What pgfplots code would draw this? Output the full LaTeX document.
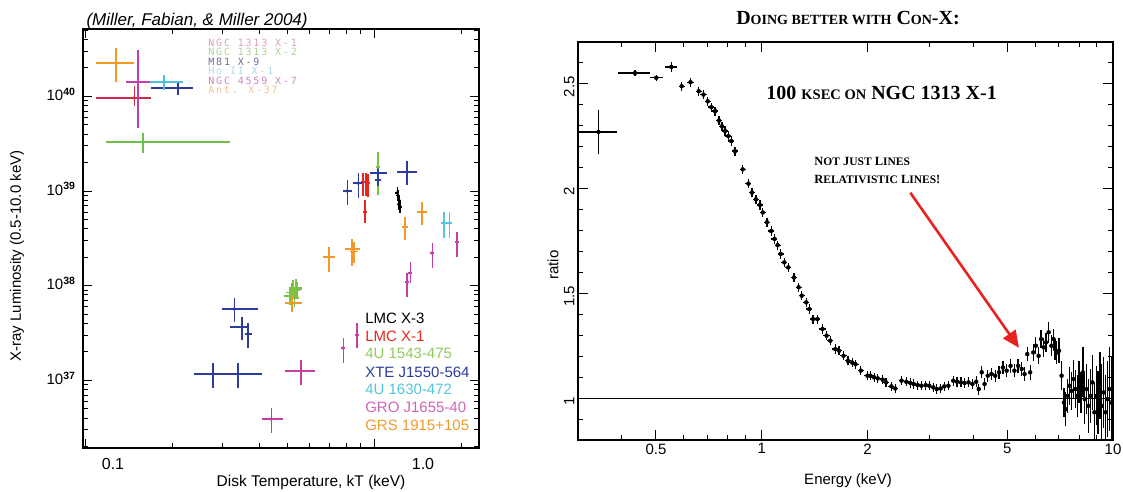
\documentclass[border=0pt]{standalone}
\usepackage{fontspec}
\setmainfont{Liberation Sans}
\newfontfamily\tnr{Liberation Serif}
\newfontfamily\hmono[LetterSpace=18]{DejaVu Sans Mono}
\usepackage{pgfplots}
\pgfplotsset{compat=1.18}
\usetikzlibrary{arrows.meta}

\definecolor{uRed}{HTML}{D02A4A}
\definecolor{uGreen}{HTML}{6CC04A}
\definecolor{uBlue}{HTML}{2E3A9A}
\definecolor{uCyan}{HTML}{4EC3D8}
\definecolor{uMag}{HTML}{C43CB0}
\definecolor{uOrange}{HTML}{F39A1E}
\definecolor{gRed}{HTML}{E8261C}
\definecolor{gGreen}{HTML}{7CC242}
\definecolor{gBlue}{HTML}{2B3C9B}
\definecolor{gCyan}{HTML}{55C6D9}
\definecolor{gMag}{HTML}{C63DA3}
\definecolor{gOrange}{HTML}{F19A2A}
\definecolor{lRed}{HTML}{D9A0B8}
\definecolor{lGreen}{HTML}{A8D49A}
\definecolor{lBlue}{HTML}{6B6B9B}
\definecolor{lCyan}{HTML}{B0DCEA}
\definecolor{lMag}{HTML}{C888C4}
\definecolor{lOrange}{HTML}{EDC59A}
\definecolor{arrowred}{HTML}{E8231F}

\newcommand{\fs}[1]{\fontsize{#1}{#1}\selectfont}
\newcommand{\ten}[1]{10\textsuperscript{\textbf{#1}}}

\pgfplotsset{
  ebl/.style={only marks, mark=diamond, mark size=1.6pt, mark options={solid, line width=0.6pt},
    error bars/x dir=both, error bars/x explicit, error bars/y dir=both, error bars/y explicit,
    error bars/error mark=none, error bars/error bar style={line width=1.3pt}},
  ebr/.style={only marks, mark=none,
    error bars/x dir=both, error bars/x explicit, error bars/y dir=both, error bars/y explicit,
    error bars/error mark=none, error bars/error bar style={line width=1.3pt}},
}

\begin{document}
\begin{tikzpicture}
\useasboundingbox (0,0) rectangle (1123pt,491pt);

% ---------------- left panel: log10 kT vs log10 L ----------------
\begin{axis}[
  at={(83pt,43pt)}, anchor=south west, scale only axis,
  width=396pt, height=419pt,
  xmin=-1.007, xmax=0.363, ymin=36.286, ymax=40.711,
  xtick={-1,0}, xticklabels={},
  minor xtick={-0.699,-0.523,-0.398,-0.301,-0.222,-0.155,-0.097,-0.046,0.301},
  ytick={37,38,39,40},
  yticklabels={\ten{37},\ten{38},\ten{39},\ten{40}},
  minor ytick={36.301,36.477,36.602,36.699,36.778,36.845,36.903,36.954,
    37.301,37.477,37.602,37.699,37.778,37.845,37.903,37.954,
    38.301,38.477,38.602,38.699,38.778,38.845,38.903,38.954,
    39.301,39.477,39.602,39.699,39.778,39.845,39.903,39.954,
    40.301,40.477,40.602,40.699},
  tick align=inside, tick pos=both, xticklabel pos=lower, yticklabel pos=left,
  major tick length=9pt, minor tick length=5pt,
  axis line style={line width=1.2pt}, tick style={black, line width=0.9pt},
  yticklabel style={font=\fs{15}, xshift=-4pt, yshift=2pt},
]
% ULXs
\addplot[color=uRed, ebl] table[x=x,y=y,x error minus=xm,x error plus=xp,y error minus=ym,y error plus=yp] {
x y xm xp ym yp
-0.830 39.982 0.131 0.059 0.084 0.127
};
\addplot[color=uGreen, ebl] table[x=x,y=y,x error minus=xm,x error plus=xp,y error minus=ym,y error plus=yp] {
x y xm xp ym yp
-0.799 39.517 0.128 0.301 0.116 0.095
};
\addplot[color=uBlue, ebl] table[x=x,y=y,x error minus=xm,x error plus=xp,y error minus=ym,y error plus=yp] {
x y xm xp ym yp
-0.678 40.088 0.093 0.052 0.074 0.053
};
\addplot[color=uCyan, ebl] table[x=x,y=y,x error minus=xm,x error plus=xp,y error minus=ym,y error plus=yp] {
x y xm xp ym yp
-0.727 40.151 0.125 0.066 0.085 0.074
};
\addplot[color=uMag, ebl] table[x=x,y=y,x error minus=xm,x error plus=xp,y error minus=ym,y error plus=yp] {
x y xm xp ym yp
-0.817 40.151 0.042 0.042 0.486 0.338
};
\addplot[color=uOrange, ebl] table[x=x,y=y,x error minus=xm,x error plus=xp,y error minus=ym,y error plus=yp] {
x y xm xp ym yp
-0.893 40.352 0.069 0.062 0.200 0.160
};
% Galactic black holes
\addplot[color=black, ebl] table[x=x,y=y,x error minus=xm,x error plus=xp,y error minus=ym,y error plus=yp] {
x y xm xp ym yp
0.080 38.980 0.007 0.007 0.060 0.060
0.083 38.950 0.007 0.007 0.060 0.060
0.087 38.900 0.007 0.007 0.060 0.060
0.085 38.860 0.007 0.007 0.060 0.060
0.090 38.830 0.007 0.007 0.060 0.060
};
\addplot[color=gRed, ebl] table[x=x,y=y,x error minus=xm,x error plus=xp,y error minus=ym,y error plus=yp] {
x y xm xp ym yp
-0.038 39.095 0.007 0.007 0.150 0.100
-0.028 39.095 0.007 0.007 0.150 0.100
-0.021 39.084 0.007 0.007 0.150 0.100
-0.031 38.778 0.007 0.007 0.116 0.127
};
\addplot[color=gGreen, ebl] table[x=x,y=y,x error minus=xm,x error plus=xp,y error minus=ym,y error plus=yp] {
x y xm xp ym yp
0.014 39.253 0.007 0.007 0.300 0.160
-0.291 37.891 0.020 0.020 0.100 0.100
-0.280 37.955 0.015 0.025 0.100 0.100
-0.270 37.976 0.020 0.020 0.100 0.100
-0.284 37.930 0.020 0.020 0.120 0.100
-0.264 37.960 0.015 0.015 0.080 0.080
-0.275 37.870 0.015 0.015 0.100 0.100
};
\addplot[color=gBlue, ebl] table[x=x,y=y,x error minus=xm,x error plus=xp,y error minus=ym,y error plus=yp] {
x y xm xp ym yp
-0.093 39.000 0.015 0.015 0.148 0.116
-0.055 39.084 0.017 0.017 0.158 0.106
0.014 39.190 0.028 0.031 0.050 0.050
0.014 39.116 0.010 0.010 0.060 0.060
0.114 39.200 0.035 0.035 0.137 0.116
-0.484 37.754 0.042 0.083 0.137 0.116
-0.457 37.564 0.042 0.021 0.137 0.106
-0.436 37.490 0.012 0.012 0.148 0.116
-0.557 37.068 0.066 0.083 0.148 0.116
-0.471 37.068 0.087 0.083 0.148 0.116
};
\addplot[color=gCyan, ebl] table[x=x,y=y,x error minus=xm,x error plus=xp,y error minus=ym,y error plus=yp] {
x y xm xp ym yp
0.242 38.662 0.010 0.010 0.158 0.116
0.260 38.662 0.010 0.010 0.158 0.116
};
\addplot[color=gMag, ebl] table[x=x,y=y,x error minus=xm,x error plus=xp,y error minus=ym,y error plus=yp] {
x y xm xp ym yp
0.287 38.461 0.007 0.007 0.158 0.106
0.201 38.345 0.007 0.007 0.158 0.106
0.114 38.039 0.007 0.007 0.158 0.095
0.125 38.134 0.007 0.007 0.106 0.116
-0.253 37.099 0.055 0.048 0.148 0.116
-0.356 36.592 0.031 0.042 0.148 0.116
-0.107 37.342 0.007 0.007 0.158 0.106
-0.059 37.479 0.007 0.007 0.137 0.127
};
\addplot[color=gOrange, ebl] table[x=x,y=y,x error minus=xm,x error plus=xp,y error minus=ym,y error plus=yp] {
x y xm xp ym yp
0.166 38.778 0.017 0.017 0.137 0.106
0.107 38.620 0.010 0.010 0.137 0.106
-0.156 38.303 0.020 0.020 0.158 0.106
-0.076 38.388 0.026 0.026 0.180 0.106
-0.069 38.360 0.015 0.015 0.120 0.100
-0.284 37.817 0.024 0.035 0.090 0.090
};
% legends
\begin{scope}[every node/.style={anchor=west, inner sep=0pt, font=\hmono\fs{10}}]
\node[text=lRed]    at (axis cs:-0.574,40.563) {NGC 1313 X-1};
\node[text=lGreen]  at (axis cs:-0.574,40.468) {NGC 1313 X-2};
\node[text=lBlue]   at (axis cs:-0.574,40.362) {M81 X-9};
\node[text=lCyan]   at (axis cs:-0.574,40.267) {Ho II X-1};
\node[text=lMag]    at (axis cs:-0.574,40.162) {NGC 4559 X-7};
\node[text=lOrange] at (axis cs:-0.574,40.067) {Ant. X-37};
\end{scope}
\begin{scope}[every node/.style={anchor=west, inner sep=0pt, font=\fs{15}}]
\node[text=black]   at (axis cs:-0.031,37.659) {LMC X-3};
\node[text=gRed]    at (axis cs:-0.031,37.469) {LMC X-1};
\node[text=gGreen!85!white]  at (axis cs:-0.031,37.289) {4U 1543-475};
\node[text=gBlue]   at (axis cs:-0.031,37.089) {XTE J1550-564};
\node[text=gCyan]   at (axis cs:-0.031,36.909) {4U 1630-472};
\node[text=gMag!80!white]    at (axis cs:-0.031,36.719) {GRO J1655-40};
\node[text=gOrange] at (axis cs:-0.031,36.529) {GRS 1915+105};
\end{scope}
\end{axis}

\node[anchor=west, font=\itshape\fs{17}] at (83pt,470pt) {(Miller, Fabian, \& Miller 2004)};
\node[rotate=90, font=\fs{15}] at (17pt,235pt) {X-ray Luminosity (0.5-10.0 keV)};
\node[font=\fs{15.5}] at (311pt,9pt) {Disk Temperature, kT (keV)};
\node[font=\fs{16}] at (113pt,27pt) {0.1};
\node[font=\fs{16}] at (423pt,27pt) {1.0};

% ---------------- right panel: ratio spectrum ----------------
\begin{axis}[
  at={(578pt,51pt)}, anchor=south west, scale only axis,
  width=535pt, height=398pt,
  xmode=log, xmin=0.3, xmax=10, ymin=0.8, ymax=2.7,
  xtick={0.5,1,2,5,10}, xticklabels={0.5,1,2,5,10},
  minor xtick={0.4,0.6,0.7,0.8,0.9,3,4,6,7,8,9},
  ytick={1,1.5,2,2.5}, yticklabels={1,1.5,2,2.5},
  minor ytick={0.9,1.1,1.2,1.3,1.4,1.6,1.7,1.8,1.9,2.1,2.2,2.3,2.4,2.6},
  tick align=inside, tick pos=both, xticklabel pos=lower, yticklabel pos=left,
  major tick length=10pt, minor tick length=5pt,
  axis line style={line width=1.3pt}, tick style={black, line width=0.9pt},
  xticklabel style={font=\fs{15}},
  yticklabel style={font=\fs{15}, rotate=90, anchor=south, xshift=-3pt},
]
\addplot[black, line width=1.2pt] coordinates {(0.3,1) (10,1)};
\addplot[black, ebr] table[x=E, y=r, x error=dE, y error=dr] {
E r dE dr
0.343 2.271 0.045 0.105
0.436 2.552 0.046 0.014
0.501 2.529 0.021 0.014
0.553 2.581 0.022 0.022
0.592 2.489 0.012 0.022
0.627 2.508 0.013 0.022
0.662 2.465 0.013 0.022
0.683 2.449 0.014 0.022
0.702 2.417 0.014 0.022
0.719 2.389 0.014 0.022
0.737 2.370 0.015 0.022
0.756 2.325 0.015 0.022
0.771 2.298 0.015 0.022
0.787 2.275 0.016 0.022
0.803 2.251 0.016 0.022
0.819 2.227 0.016 0.022
0.840 2.179 0.017 0.022
0.883 2.092 0.018 0.022
0.917 2.024 0.018 0.022
0.939 1.981 0.019 0.022
0.963 1.949 0.019 0.022
0.988 1.922 0.020 0.022
1.007 1.886 0.020 0.022
1.035 1.840 0.021 0.022
1.064 1.798 0.021 0.022
1.087 1.760 0.022 0.022
1.110 1.730 0.022 0.022
1.133 1.688 0.023 0.022
1.160 1.648 0.023 0.022
1.190 1.624 0.024 0.022
1.236 1.576 0.025 0.022
1.274 1.529 0.025 0.022
1.300 1.489 0.026 0.022
1.339 1.457 0.027 0.022
1.366 1.425 0.027 0.022
1.400 1.377 0.028 0.022
1.440 1.377 0.029 0.022
1.490 1.330 0.030 0.022
1.530 1.298 0.031 0.022
1.567 1.274 0.031 0.022
1.620 1.234 0.032 0.022
1.660 1.226 0.033 0.022
1.710 1.202 0.034 0.022
1.760 1.178 0.035 0.022
1.810 1.170 0.036 0.022
1.850 1.162 0.037 0.022
1.915 1.131 0.038 0.022
2.000 1.107 0.040 0.022
2.040 1.107 0.041 0.022
2.090 1.099 0.042 0.022
2.140 1.094 0.043 0.022
2.210 1.088 0.044 0.022
2.260 1.075 0.045 0.022
2.340 1.056 0.047 0.022
2.400 1.046 0.048 0.022
2.500 1.083 0.040 0.022
2.580 1.078 0.040 0.022
2.650 1.072 0.040 0.022
2.710 1.067 0.040 0.022
2.780 1.062 0.040 0.022
2.850 1.059 0.040 0.022
2.930 1.062 0.040 0.022
3.000 1.059 0.040 0.022
3.080 1.051 0.040 0.022
3.150 1.043 0.040 0.022
3.230 1.046 0.040 0.022
3.310 1.056 0.040 0.022
3.400 1.059 0.040 0.022
3.510 1.083 0.045 0.024
3.600 1.078 0.045 0.024
3.690 1.075 0.045 0.024
3.780 1.072 0.045 0.024
3.880 1.075 0.045 0.024
3.980 1.067 0.045 0.024
4.080 1.078 0.045 0.026
4.150 1.043 0.040 0.026
4.230 1.123 0.040 0.028
4.310 1.067 0.040 0.028
4.400 1.107 0.050 0.028
4.510 1.115 0.050 0.028
4.620 1.107 0.050 0.028
4.740 1.123 0.050 0.030
4.860 1.146 0.050 0.030
4.980 1.131 0.050 0.030
5.110 1.154 0.050 0.032
5.240 1.131 0.050 0.032
5.370 1.154 0.050 0.032
5.500 1.139 0.050 0.035
5.600 1.115 0.050 0.035
5.700 1.210 0.050 0.035
5.810 1.123 0.050 0.035
5.930 1.218 0.050 0.040
6.030 1.250 0.050 0.040
6.140 1.202 0.050 0.040
6.240 1.282 0.050 0.045
6.350 1.242 0.050 0.045
6.450 1.266 0.050 0.045
6.560 1.314 0.050 0.050
6.680 1.250 0.050 0.050
6.770 1.282 0.050 0.050
6.840 1.234 0.050 0.050
6.920 1.218 0.050 0.055
7.020 1.226 0.050 0.060
7.140 1.107 0.050 0.070
7.250 0.979 0.050 0.070
7.330 0.947 0.050 0.080
7.430 1.011 0.050 0.080
7.520 1.059 0.050 0.090
7.620 1.035 0.050 0.090
7.720 1.091 0.050 0.090
7.810 1.043 0.050 0.090
7.920 1.011 0.050 0.100
8.000 1.075 0.050 0.100
8.110 1.027 0.050 0.100
8.210 1.123 0.050 0.120
8.310 0.995 0.050 0.120
8.420 1.043 0.050 0.120
8.520 0.963 0.050 0.130
8.630 1.011 0.050 0.130
8.740 1.075 0.050 0.130
8.850 0.932 0.050 0.140
8.960 1.011 0.050 0.140
9.070 0.979 0.050 0.150
9.180 1.059 0.050 0.160
9.290 0.963 0.050 0.200
9.410 1.027 0.050 0.170
9.530 0.932 0.050 0.180
9.640 0.995 0.050 0.180
9.770 1.043 0.050 0.200
9.890 0.979 0.050 0.220
};
\draw[arrowred, line width=2.6pt, -{Triangle[length=17pt,width=15pt]}] (axis cs:2.65,1.98) -- (axis cs:5.4,1.24);
\node[anchor=west, inner sep=0pt, font=\tnr\bfseries\fs{20}] at (axis cs:1.03,2.457) {100 {\fs{14.5}KSEC ON} NGC 1313 X-1};
\node[anchor=west, inner sep=0pt, font=\tnr\bfseries\fs{12.5}] at (axis cs:1.41,2.129) {N{\fs{11.5}OT} J{\fs{11.5}UST} L{\fs{11.5}INES}};
\node[anchor=west, inner sep=0pt, font=\tnr\bfseries\fs{12.5}] at (axis cs:1.41,2.044) {R{\fs{11.5}ELATIVISTIC} L{\fs{11.5}INES}!};
\end{axis}

\node[font=\tnr\bfseries\fs{20}] at (848pt,473pt) {D{\fs{14}OING BETTER WITH} C{\fs{14}ON}-X:};
\node[rotate=90, font=\fs{15}] at (553pt,226pt) {ratio};
\node[font=\fs{15}] at (848pt,10pt) {Energy (keV)};
\end{tikzpicture}
\end{document}
